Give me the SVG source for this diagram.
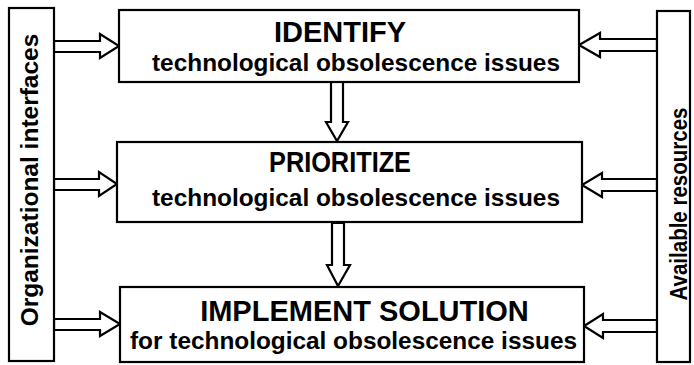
<svg xmlns="http://www.w3.org/2000/svg" width="694" height="365" viewBox="0 0 694 365">
<style>
.box{fill:#fff;stroke:#000;stroke-width:2.2}
.arr{fill:#fff;stroke:#000;stroke-width:2.2;stroke-linejoin:miter}
.t{font-family:"Liberation Sans",Arial,sans-serif;font-weight:bold;fill:#000;text-anchor:middle}
.title{font-size:29px}
.sub{font-size:24.5px}
.side{font-size:24.5px}
</style>
<rect width="694" height="365" fill="#fff"/>
<g id="connectors">
<polygon class="arr" points="54,41 100,41 100,34 119,46 100,58 100,52 54,52"/>
<polygon class="arr" points="54,179 99,179 99,172 117,184 99,196 99,190 54,190"/>
<polygon class="arr" points="54,319 100,319 100,312 120,324 100,336 100,330 54,330"/>
<polygon class="arr" points="657,39 600,39 600,33 579,45 600,57 600,51 657,51"/>
<polygon class="arr" points="657,179 602,179 602,173 582,185 602,197 602,191 657,191"/>
<polygon class="arr" points="657,320 603,320 603,314 584,326 603,338 603,332 657,332"/>
<polygon class="arr" points="331,82 343,82 343,122 348,122 337,141 326,122 331,122"/>
<polygon class="arr" points="332,223 344,223 344,265 350,265 338,286 327,265 332,265"/>
</g>
<g id="org-interfaces">
<rect class="box" x="9" y="8" width="45" height="353"/>
<text class="t side" transform="translate(38,180) rotate(-90)">Organizational interfaces</text>
</g>
<g id="available-resources">
<rect class="box" x="657" y="11" width="33" height="351"/>
<text class="t side" transform="translate(687,204) rotate(-90)" textLength="193" lengthAdjust="spacingAndGlyphs">Available resources</text>
</g>
<g id="identify">
<rect class="box" x="119" y="10" width="460" height="72"/>
<text class="t title" x="340" y="42">IDENTIFY</text>
<text class="t sub" x="356" y="71" textLength="408" lengthAdjust="spacingAndGlyphs">technological obsolescence issues</text>
</g>
<g id="prioritize">
<rect class="box" x="117" y="142" width="465" height="80"/>
<text class="t title" x="340" y="172" textLength="142" lengthAdjust="spacingAndGlyphs">PRIORITIZE</text>
<text class="t sub" x="356" y="206" textLength="408" lengthAdjust="spacingAndGlyphs">technological obsolescence issues</text>
</g>
<g id="implement">
<rect class="box" x="120" y="287" width="464" height="75"/>
<text class="t title" x="364.5" y="321">IMPLEMENT SOLUTION</text>
<text class="t sub" x="353.5" y="349" textLength="447" lengthAdjust="spacingAndGlyphs">for technological obsolescence issues</text>
</g>
</svg>
